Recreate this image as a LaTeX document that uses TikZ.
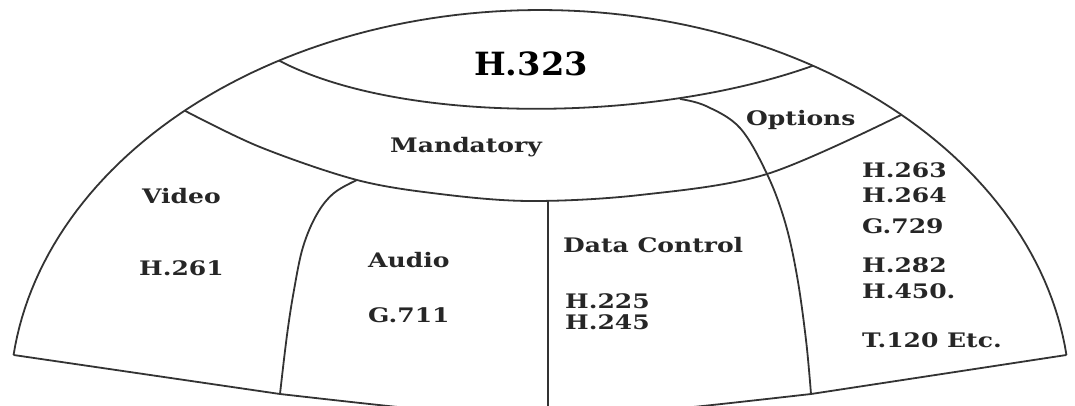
\documentclass[tikz,border=0pt]{standalone}
\usepackage{fontspec}
\newfontfamily\labfont{DejaVu Serif}[FakeStretch=1.25]
\newfontfamily\ttlfont{DejaVu Serif}[FakeStretch=1.05]
\begin{document}
\begin{tikzpicture}[x=1pt,y=-1pt,
  edge/.style={draw=black!80,line width=1.8pt,line join=round},
  lab/.style={inner sep=0pt,anchor=base west,text=black!85,font=\labfont\bfseries\fontsize{20}{22}\selectfont},
  ttl/.style={inner sep=0pt,anchor=base,text=black,font=\ttlfont\bfseries\fontsize{32}{34}\selectfont}]
\useasboundingbox (0,0) rectangle (1075,405);
\fill[white] (0,0) rectangle (1075,405);
\clip (0,0) rectangle (1075,405);
% junctions on outer dome
\coordinate (LE) at ({540+530*cos(186.63)},{400+390*sin(186.63)});
\coordinate (ML) at ({540+530*cos(227.9)},{400+390*sin(227.9)});
\coordinate (HL) at ({540+530*cos(240.5)},{400+390*sin(240.5)});
\coordinate (HR) at ({540+530*cos(301)},{400+390*sin(301)});
\coordinate (OR) at ({540+530*cos(313)},{400+390*sin(313)});
\coordinate (RE) at ({540+530*cos(353.37)},{400+390*sin(353.37)});
\coordinate (AB) at (280,394);
\coordinate (OB) at (811,394);
\coordinate (MA) at (357,180);
\coordinate (MO) at (767,174);
\coordinate (DT) at (548,201);
\coordinate (DB) at (548,420);
\coordinate (OT) at (680,99);
% outer dome
\draw[edge] plot[domain=186.63:353.37,samples=120] ({540+530*cos(\x)},{400+390*sin(\x)});
% bottom
\draw[edge] (LE) -- (AB) .. controls (545.5,424) .. (OB) -- (RE);
% H.323 lens lower arc
\draw[edge] (HL) .. controls (400,124) and (650,124) .. (HR);
% Mandatory lower curve
\draw[edge] plot[smooth,tension=0.55] coordinates {(ML) (260,147) (MA) (440,194) (530,201) (640,195) (MO) (OR)};
% Audio boundary
\draw[edge] plot[smooth,tension=0.6] coordinates {(MA) (334,193) (317,214) (303,247) (294,290) (287,335) (AB)};
% Options boundary
\draw[edge] plot[smooth,tension=0.6] coordinates {(OT) (706,106) (740,128) (MO) (785,222) (797,276) (806,340) (OB)};
% Data control divider
\draw[edge] (DT) -- (DB);
% labels
\node[ttl] (h323) at (531,75) {H.323};
\node[lab] (mand) at (390,152) {Mandatory};
\node[lab] (opt) at (746,125) {Options};
\node[lab] (video) at (142,203) {Video};
\node[lab] (h261) at (139,275) {H.261};
\node[lab] (audio) at (368,267) {Audio};
\node[lab] (g711) at (368,322) {G.711};
\node[lab] (dc) at (563,252) {Data Control};
\node[lab] (h225) at (565,308) {H.225};
\node[lab] (h245) at (565,329) {H.245};
\node[lab] (h263) at (862,177) {H.263};
\node[lab] (h264) at (862,202) {H.264};
\node[lab] (g729) at (862,233) {G.729};
\node[lab] (h282) at (862,272) {H.282};
\node[lab] (h450) at (862,298) {H.450.};
\node[lab] (t120) at (862,347) {T.120 Etc.};
\end{tikzpicture}
\end{document}
